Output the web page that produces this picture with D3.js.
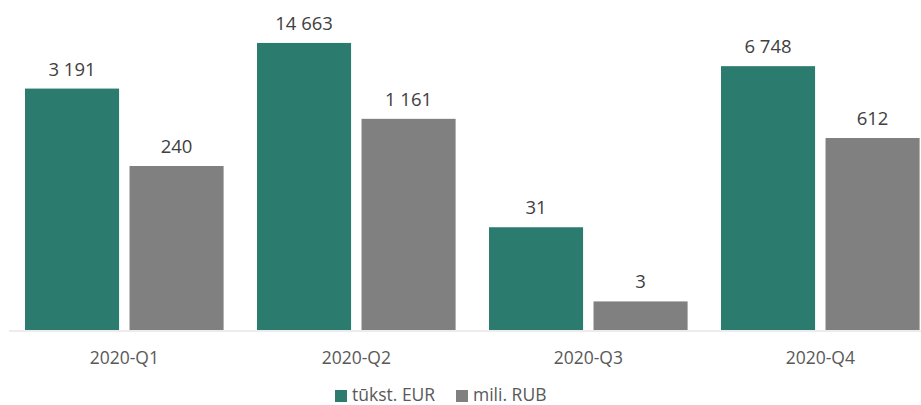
<!DOCTYPE html>
<html><head><meta charset="utf-8">
<script src="https://cdn.jsdelivr.net/npm/d3@7"></script>
<style>html,body{margin:0;padding:0;background:#fff;overflow:hidden}</style>
</head><body>
<svg id="chart" width="921" height="405"></svg>
<script>
const categories = ["2020-Q1", "2020-Q2", "2020-Q3", "2020-Q4"];
const seriesNames = ["tūkst. EUR", "mili. RUB"];
const eurValues = [3191, 14663, 31, 6748];
const rubValues = [240, 1161, 2.6, 612];
const colors = ["#2C7B6F", "#808080"];

const svg = d3.select("#chart");
const baseY = 330;
const x0 = d3.scaleBand().domain(categories).range([8.3, 936.3]).paddingInner(0).paddingOuter(0);
const x1 = d3.scaleBand().domain(seriesNames).range([16.7, 232 - 16.7]).paddingInner(0.1);
const y = d3.scaleLog().domain([1, 100000]).range([baseY, baseY - 344.5]);
const fmt = v => d3.format(",")(Math.round(v)).replace(/,/g, " ");

const data = categories.map((c, i) => ({cat: c, vals: [eurValues[i], rubValues[i]]}));

const g = svg.append("g");
const groups = g.selectAll("g.grp").data(data).join("g")
  .attr("transform", d => `translate(${x0(d.cat)},0)`);

groups.selectAll("rect").data(d => d.vals.map((v, j) => ({v, s: seriesNames[j], j})))
  .join("rect")
  .attr("x", d => x1(d.s))
  .attr("width", x1.bandwidth())
  .attr("y", d => y(d.v))
  .attr("height", d => baseY - y(d.v))
  .attr("fill", d => colors[d.j]);

groups.selectAll("text.val").data(d => d.vals.map((v, j) => ({v, s: seriesNames[j], j})))
  .join("text")
  .attr("class", "val")
  .attr("x", d => x1(d.s) + x1.bandwidth() / 2)
  .attr("y", d => y(d.v) - 13)
  .attr("text-anchor", "middle")
  .style("font-family", "'Open Sans', sans-serif")
  .style("font-size", "18.5px")
  .style("fill", "#404040")
  .text(d => fmt(d.v));

// axis
const axis = d3.axisBottom(x0).tickSize(0).tickPadding(0);
const ax = svg.append("g").attr("transform", `translate(0,${baseY + 1})`).call(axis);
ax.select(".domain").attr("stroke", "#d9d9d9").attr("d", "M9,0H921");
ax.selectAll("text")
  .attr("y", 33)
  .attr("dy", 0)
  .style("font-family", "'Open Sans', sans-serif")
  .style("font-size", "17.5px")
  .style("fill", "#595959");

// legend
const legendX = [335, 456];
const leg = svg.append("g");
seriesNames.forEach((s, i) => {
  leg.append("rect").attr("x", legendX[i]).attr("y", 390).attr("width", 12).attr("height", 12).attr("fill", colors[i]);
  leg.append("text").attr("x", legendX[i] + 17).attr("y", 401)
    .style("font-family", "'Open Sans', sans-serif")
    .style("font-size", "17.5px")
    .style("fill", "#595959")
    .text(s);
});
</script>
</body></html>
